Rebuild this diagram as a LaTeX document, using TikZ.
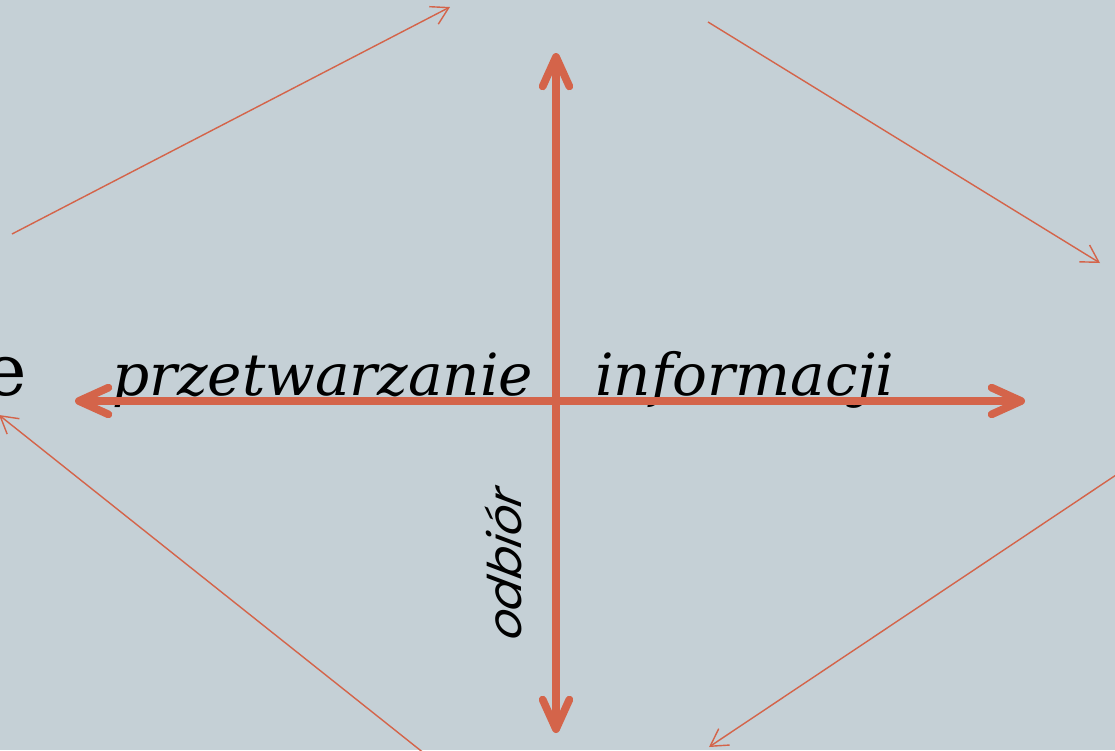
\documentclass[tikz,border=0pt]{standalone}
\usepackage{fontspec}
\setmainfont{DejaVu Serif}
\newfontfamily\recvfont[FakeSlant=0.2]{Poppins}
\usetikzlibrary{arrows.meta,positioning}
\definecolor{slate}{RGB}{197,208,214}
\definecolor{rust}{RGB}{212,100,74}

\begin{document}
\begin{tikzpicture}[x=0.025cm,y=-0.025cm,
        axis/.style={rust,line width=5.5pt,line cap=round,>={Straight Barb[round,length=21pt,width=19pt]},<->},
        flow/.style={rust,line width=1pt,>={Straight Barb[length=12pt,width=14pt]},->},
        word/.style={inner sep=0pt,anchor=base west}]
    \fill[slate] (0,0) rectangle (1115,750);
    \useasboundingbox (0,0) rectangle (1115,750);
    % words
    \node[word,font=\fontsize{41.3}{48}\selectfont\itshape] (proc) at (112,395) {przetwarzanie};
    \node[word,font=\fontsize{41.3}{48}\selectfont\itshape] (info) at (595,395) {informacji};
    \node[word,anchor=base east,font=\fontsize{51}{60}\selectfont] (cut) at (27,395) {e};
    \node[word,rotate=90,font=\fontsize{33}{38}\recvfont\itshape] (recv) at (521,642) {odbiór};
    % cross
    \coordinate (west) at (75,401);
    \coordinate (east) at (1025,401);
    \coordinate (north) at (556,53);
    \coordinate (south) at (556,733);
    \draw[axis] (west) -- (east);
    \draw[axis] (north) -- (south);
    % cycle
    \coordinate (a1) at (12,234);  \coordinate (a2) at (450,7);
    \coordinate (b1) at (708,22);  \coordinate (b2) at (1100,263);
    \coordinate (c1) at (1125,469); \coordinate (c2) at (709,747);
    \coordinate (d1) at (425,754); \coordinate (d2) at (-1,415);
    \draw[flow] (a1) -- (a2);
    \draw[flow] (b1) -- (b2);
    \draw[flow] (c1) -- (c2);
    \draw[flow] (d1) -- (d2);
\end{tikzpicture}
\end{document}
